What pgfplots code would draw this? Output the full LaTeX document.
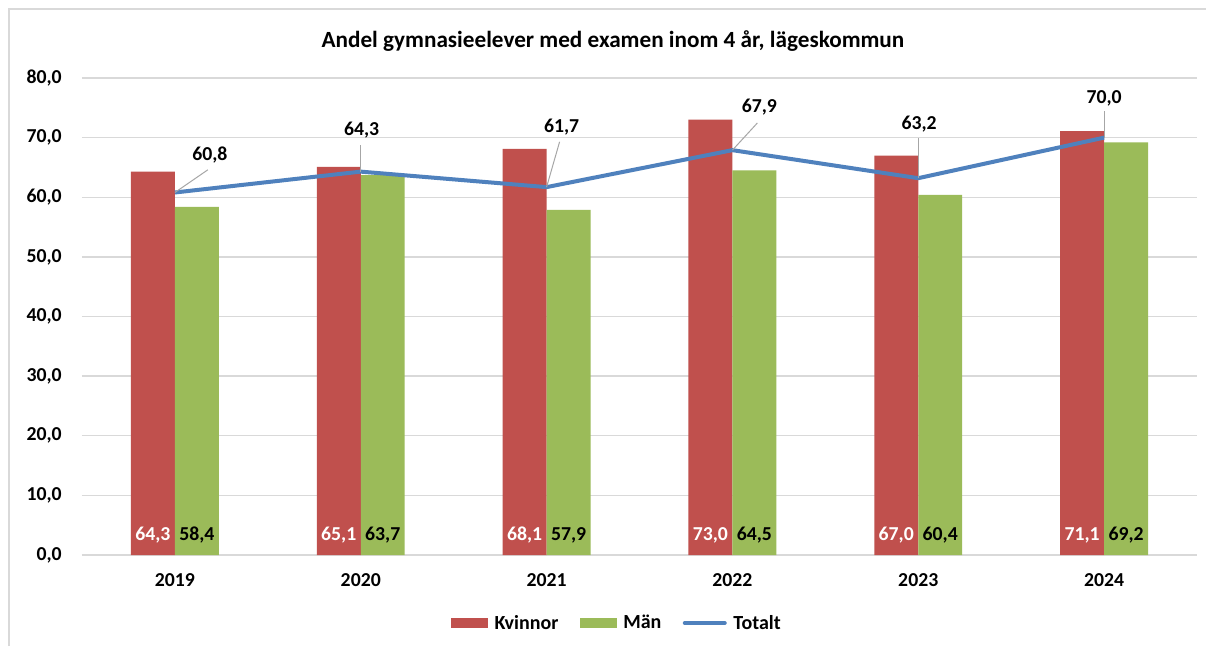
\documentclass[border=0pt]{standalone}
\usepackage{fontspec}
\setmainfont{Carlito}
\usepackage{pgfplots}
\usepackage{pgfplotstable}
\pgfplotsset{compat=1.18}
\definecolor{kv}{HTML}{C0504D}
\definecolor{man}{HTML}{9BBB59}
\definecolor{tot}{HTML}{4F81BD}
\definecolor{gridc}{HTML}{D9D9D9}
\definecolor{lead}{HTML}{A6A6A6}
\pgfplotstableread{
x kv man tot lx ly u v
0 64.3 58.4 60.8 0.188 67.1 0.177 3.8
1 65.1 63.7 64.3 1.005 71.3 0.0 4.5
2 68.1 57.9 61.7 2.081 71.8 0.07 7.6
3 73.0 64.5 67.9 3.145 75.05 0.134 4.55
4 67.0 60.4 63.2 4.005 72.3 0.0 6.7
5 71.1 69.2 70.0 5.0 76.6 0.0 4.5
}\data
\newcommand{\lbl}{\fontsize{14.8}{17}\selectfont\bfseries}
\begin{document}
\begin{tikzpicture}
\useasboundingbox (0,0) rectangle (904.5pt,484.5pt);
\fill[white] (0,0) rectangle (904.5pt,484.5pt);
\draw[gridc, line width=1.5pt] (6.75pt,0) -- (6.75pt,477.4pt) -- (904.5pt,477.4pt);
\node[font=\fontsize{17.4}{20}\selectfont\bfseries] at (459.75pt,453.75pt) {Andel gymnasieelever med examen inom 4 år, lägeskommun};
\begin{axis}[
  at={(61.5pt,68.25pt)}, anchor=south west,
  scale only axis, width=836.25pt, height=357.75pt,
  xmin=-0.5, xmax=5.5, ymin=0, ymax=80,
  ytick={0,10,...,80},
  xtick={0,1,2,3,4,5},
  xticklabels={2019,2020,2021,2022,2023,2024},
  ymajorgrids, grid style={gridc, line width=1pt},
  axis line style={draw=none},
  tick style={draw=none},
  major tick length=0pt,
  /pgf/number format/.cd, fixed, fixed zerofill, precision=1, use comma, assume math mode=true,
  /pgfplots/.cd,
  ticklabel style={font=\lbl},
  yticklabel style={anchor=east, inner sep=0pt, xshift=-15pt},
  xticklabel style={anchor=center, yshift=-18.75pt},
  legend style={at={(0.48,-0.1426)}, anchor=center, draw=none, fill=none,
    legend columns=3, font=\fontsize{15}{17}\selectfont\bfseries,
    /tikz/every even column/.append style={column sep=14pt},
    column sep=3pt, inner sep=0pt},
  legend cell align=left,
]
\addplot[ybar, bar width=0.2366, bar shift=-0.1183, fill=kv, draw=none,
  legend image code/.code={\fill[kv] (0pt,-3.6pt) rectangle (27.75pt,3.6pt);}]
  table[x=x, y=kv] {\data};
\addlegendentry{Kvinnor}
\addplot[ybar, bar width=0.2366, bar shift=0.1183, fill=man, draw=none,
  legend image code/.code={\fill[man] (0pt,-3.6pt) rectangle (27.75pt,3.6pt);}]
  table[x=x, y=man] {\data};
\addlegendentry{Män}
\addplot[tot, line width=3pt, mark=none,
  legend image code/.code={\draw[tot, line width=3pt, line cap=round] (0pt,0pt) -- (30pt,0pt);}]
  table[x=x, y=tot] {\data};
\addlegendentry{Totalt}
% leader lines
\addplot[forget plot, lead, line width=0.75pt, mark=none, quiver={u=\thisrow{u}, v=\thisrow{v}}]
  table[x=x, y=tot] {\data};
% total labels
\addplot[forget plot, draw=none, mark=none, nodes near coords, point meta=explicit,
  nodes near coords style={anchor=center, font=\lbl, text=black}]
  table[x=lx, y=ly, meta=tot] {\data};
% bar labels
\addplot[forget plot, draw=none, mark=none, nodes near coords, point meta=explicit,
  nodes near coords style={anchor=center, font=\lbl, text=white}]
  table[x expr=\thisrow{x}-0.1183, y expr=3.35, meta=kv] {\data};
\addplot[forget plot, draw=none, mark=none, nodes near coords, point meta=explicit,
  nodes near coords style={anchor=center, font=\lbl, text=black}]
  table[x expr=\thisrow{x}+0.1183, y expr=3.35, meta=man] {\data};
\end{axis}
\end{tikzpicture}
\end{document}
